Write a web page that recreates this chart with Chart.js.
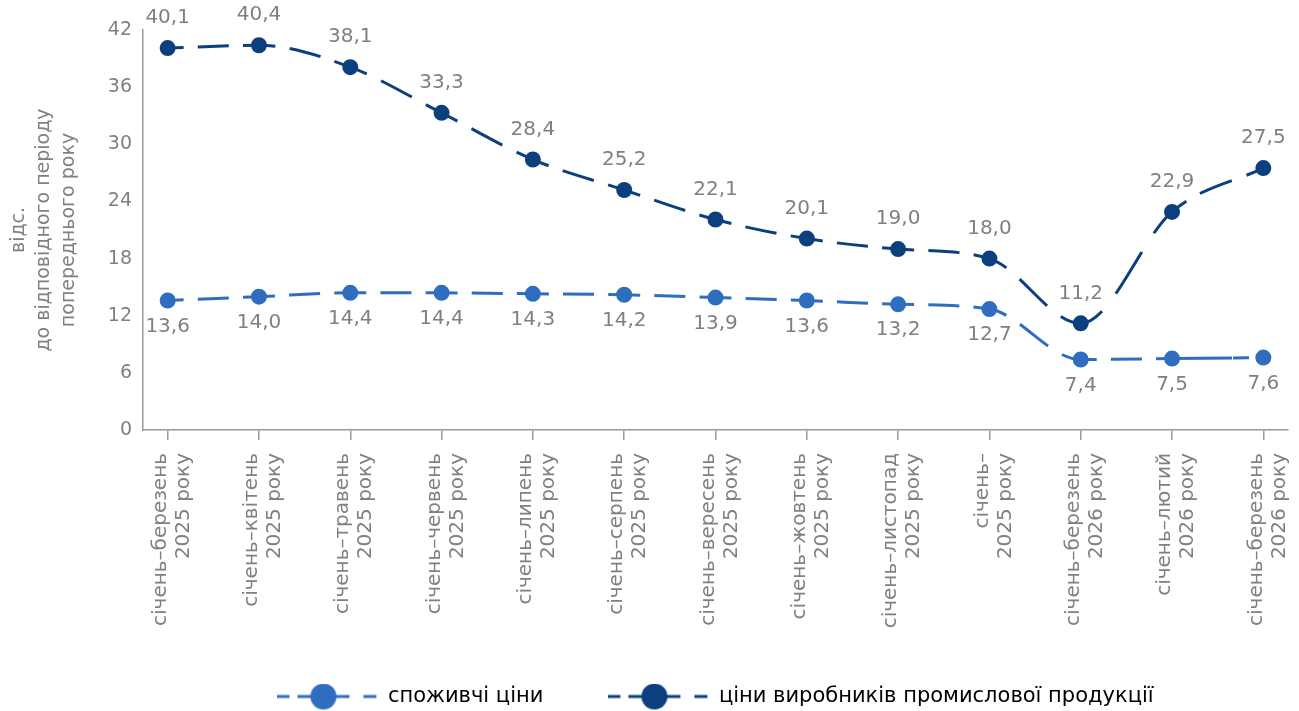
<!DOCTYPE html>
<html>
<head>
<meta charset="utf-8">
<script src="https://cdn.jsdelivr.net/npm/chart.js@4"></script>
<style>
  html, body { margin: 0; padding: 0; background: #fff; }
  #box { width: 1299px; height: 711px; }
</style>
</head>
<body>
<div id="box"><canvas id="grafico"></canvas></div>
<script>
// categories
const periodos = [
    ['січень–березень', '2025 року'],
    ['січень–квітень', '2025 року'],
    ['січень–травень', '2025 року'],
    ['січень–червень', '2025 року'],
    ['січень–липень', '2025 року'],
    ['січень–серпень', '2025 року'],
    ['січень–вересень', '2025 року'],
    ['січень–жовтень', '2025 року'],
    ['січень–листопад', '2025 року'],
    ['січень–', '2025 року'],
    ['січень–березень', '2026 року'],
    ['січень–лютий', '2026 року'],
    ['січень–березень', '2026 року']
]
// series
const spozhyvchi = [13.6, 14.0, 14.4, 14.4, 14.3, 14.2, 13.9, 13.6, 13.2, 12.7, 7.4, 7.5, 7.6]
const vyrobnyky = [40.1, 40.4, 38.1, 33.3, 28.4, 25.2, 22.1, 20.1, 19.0, 18.0, 11.2, 22.9, 27.5]
const nomes = ['споживчі ціни', 'ціни виробників промислової продукції']
// y ticks
const yMin = 0, yMax = 42, yPasso = 6

const corClara = '#2f6ebf'
const corEscura = '#0c3f7e'
const cinza = '#808080'
const fonte = 'DejaVu Sans'

// icone da legenda: tracejado + bolinha
function iconeLegenda(cor) {
    var c = document.createElement('canvas')
    c.width = 100
    c.height = 30
    var g = c.getContext('2d')
    g.strokeStyle = cor
    g.lineWidth = 3
    g.beginPath()
    g.moveTo(0, 15); g.lineTo(12, 15)
    g.moveTo(20, 15); g.lineTo(72, 15)
    g.moveTo(86, 15); g.lineTo(99, 15)
    g.stroke()
    g.fillStyle = cor
    g.beginPath()
    g.arc(46, 15, 13, 0, Math.PI * 2)
    g.fill()
    return c
}

// tracejado recomeça em cada trecho entre dois pontos (comprimento pelas escalas)
function tracoTrecho(c) {
    var sx = c.chart.scales.x, sy = c.chart.scales.y
    var ds = c.chart.data.datasets[c.datasetIndex].data
    var a = ds[c.p0DataIndex], b = ds[c.p1DataIndex]
    var dx = sx.getPixelForValue(b.x) - sx.getPixelForValue(a.x)
    var dy = sy.getPixelForValue(b.y) - sy.getPixelForValue(a.y)
    var L = Math.hypot(dx, dy)
    return [0.175 * L, 0.155 * L, 0.34 * L, 0.155 * L, 0.175 * L + 60, 1]
}

// rotulos dos valores
const rotulosValores = {
    id: 'rotulosValores',
    afterDatasetsDraw(chart) {
        var ctx = chart.ctx
        ctx.save()
        ctx.font = '20px "' + fonte + '"'
        ctx.fillStyle = cinza
        ctx.textAlign = 'center'
        ctx.textBaseline = 'middle'
        chart.data.datasets.forEach(function(ds, i) {
            var meta = chart.getDatasetMeta(i)
            meta.data.forEach(function(pt, j) {
                var txt = ds.data[j].y.toFixed(1).replace('.', ',')
                var dy = i == 1 ? -30 : 26
                ctx.fillText(txt, pt.x, pt.y + dy)
            })
        })
        ctx.restore()
    }
}

function pontos(valores) {
    return valores.map(function(v, i) { return { x: i, y: v } })
}

const ctx = document.getElementById('grafico')

new Chart(ctx, {
    type: 'line',
    data: {
        datasets: [{
            label: nomes[0],
            data: pontos(spozhyvchi),
            borderColor: corClara,
            backgroundColor: corClara,
            pointBackgroundColor: corClara,
            pointBorderColor: corClara,
            pointRadius: 6.5,
            borderWidth: 3,
            cubicInterpolationMode: 'monotone',
            segment: { borderDash: tracoTrecho },
            fill: false
        }, {
            label: nomes[1],
            data: pontos(vyrobnyky),
            borderColor: corEscura,
            backgroundColor: corEscura,
            pointBackgroundColor: corEscura,
            pointBorderColor: corEscura,
            pointRadius: 6.5,
            borderWidth: 3,
            cubicInterpolationMode: 'monotone',
            segment: { borderDash: tracoTrecho },
            fill: false
        }]
    },
    options: {
        responsive: true,
        maintainAspectRatio: false,
        animation: false,
        layout: { padding: { top: 30, right: 11, left: 0, bottom: -6 } },
        scales: {
            x: {
                type: 'linear',
                min: -0.27,
                max: 12.27,
                afterBuildTicks: function(scale) {
                    scale.ticks = scale.ticks.filter(function(t) { return Number.isInteger(t.value) })
                },
                afterFit: function(scale) {
                    scale.height = 254
                    scale.paddingLeft = 0
                    scale.paddingRight = 0
                },
                ticks: {
                    stepSize: 1,
                    autoSkip: false,
                    minRotation: 90,
                    maxRotation: 90,
                    padding: 13,
                    labelOffset: -7,
                    color: cinza,
                    font: { family: fonte, size: 20, lineHeight: 1.15 },
                    callback: function(v) { return periodos[v] }
                },
                grid: {
                    display: true,
                    drawOnChartArea: false,
                    drawTicks: true,
                    tickLength: 10,
                    color: '#9a9a9a',
                    lineWidth: 1.5
                },
                border: { display: true, color: '#9a9a9a', width: 1.5 }
            },
            y: {
                min: yMin,
                max: yMax,
                afterFit: function(scale) { scale.width = 143 },
                ticks: {
                    stepSize: yPasso,
                    padding: 3,
                    color: cinza,
                    font: { family: fonte, size: 19 }
                },
                grid: { display: false },
                border: { display: true, color: '#9a9a9a', width: 1.5 },
                title: {
                    display: true,
                    text: ['відс.', 'до відповідного періоду', 'попереднього року'],
                    color: cinza,
                    font: { family: fonte, size: 19, lineHeight: 1.3 },
                    padding: { top: 7, bottom: 0 }
                }
            }
        },
        plugins: {
            tooltip: { enabled: false },
            legend: {
                position: 'bottom',
                fullSize: false,
                labels: {
                    usePointStyle: true,
                    pointStyleWidth: 100,
                    padding: 2,
                    color: cinza,
                    font: { family: fonte, size: 21 },
                    generateLabels: function(chart) {
                        return chart.data.datasets.map(function(ds, i) {
                            return {
                                text: i == 0 ? ds.label + '\u2003\u2003\u2003' : ds.label,
                                pointStyle: iconeLegenda(ds.borderColor),
                                fillStyle: ds.borderColor,
                                strokeStyle: ds.borderColor,
                                lineWidth: 0,
                                hidden: false,
                                datasetIndex: i
                            }
                        })
                    }
                }
            }
        }
    },
    plugins: [rotulosValores]
});
</script>
</body>
</html>
